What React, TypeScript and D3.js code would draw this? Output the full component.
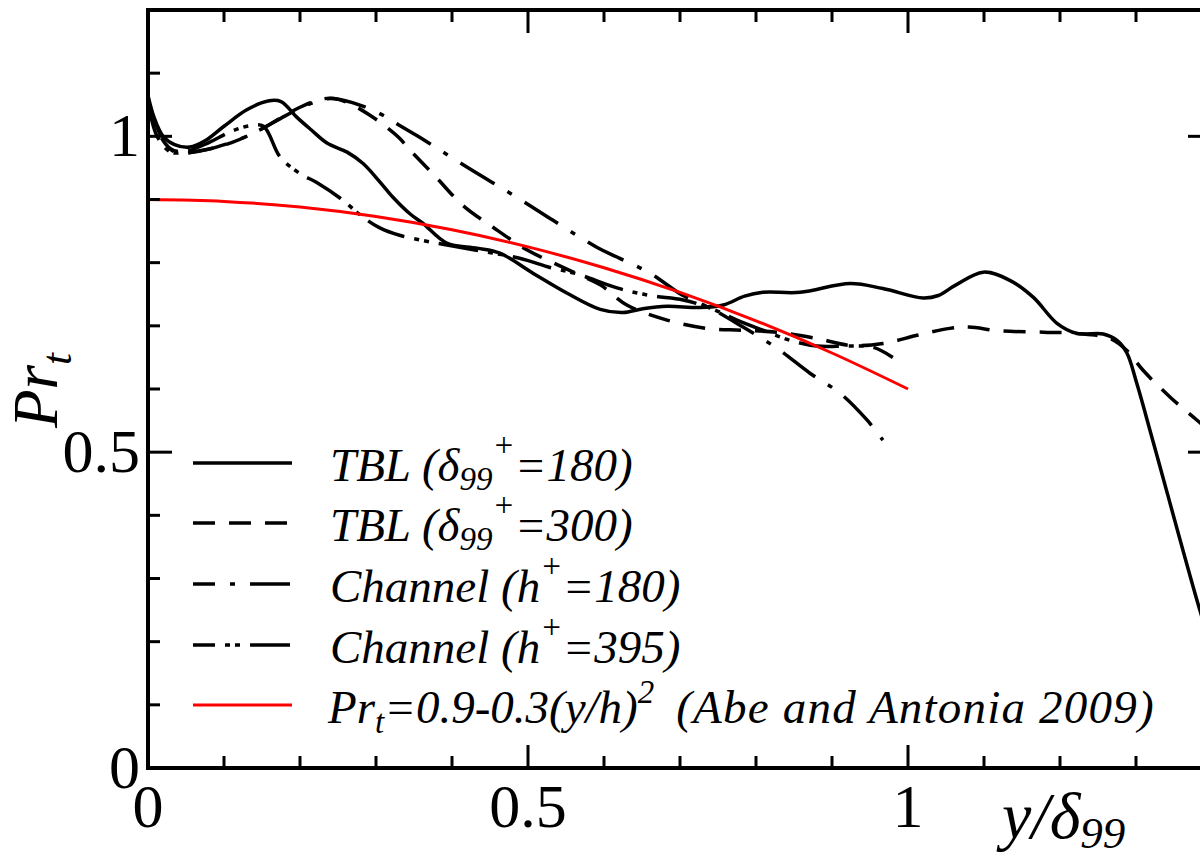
import React from 'react';
import * as d3 from 'd3';

type P = [number, number];

const tbl180: P[] = [[0,1.065],[0.008,1.03],[0.02,1.0],[0.035,0.987],[0.055,0.983],[0.075,0.993],[0.1,1.016],[0.13,1.042],[0.158,1.056],[0.175,1.055],[0.196,1.03],[0.215,1.01],[0.236,0.989],[0.262,0.975],[0.283,0.957],[0.305,0.928],[0.322,0.904],[0.345,0.877],[0.362,0.862],[0.393,0.831],[0.433,0.823],[0.463,0.815],[0.507,0.783],[0.551,0.752],[0.595,0.726],[0.625,0.721],[0.651,0.727],[0.683,0.731],[0.726,0.729],[0.757,0.733],[0.785,0.747],[0.809,0.753],[0.858,0.753],[0.924,0.767],[0.967,0.759],[1.02,0.744],[1.04,0.748],[1.062,0.764],[1.099,0.785],[1.134,0.772],[1.165,0.745],[1.196,0.704],[1.222,0.688],[1.257,0.687],[1.275,0.677],[1.288,0.657],[1.301,0.609],[1.322,0.519],[1.384,0.25],[1.4,0.19]];

const tbl300: P[] = [[0,1.05],[0.012,1.01],[0.03,0.98],[0.05,0.975],[0.08,0.98],[0.11,0.99],[0.15,1.012],[0.18,1.033],[0.2,1.046],[0.225,1.058],[0.245,1.06],[0.265,1.052],[0.29,1.035],[0.31,1.018],[0.33,0.998],[0.345,0.978],[0.38,0.934],[0.414,0.891],[0.454,0.856],[0.499,0.82],[0.533,0.8],[0.565,0.782],[0.595,0.765],[0.63,0.733],[0.683,0.709],[0.735,0.696],[0.78,0.693],[0.827,0.69],[0.88,0.68],[0.924,0.669],[0.967,0.672],[1.012,0.685],[1.055,0.696],[1.08,0.698],[1.121,0.692],[1.178,0.69],[1.222,0.688],[1.266,0.68],[1.288,0.661],[1.309,0.63],[1.345,0.587],[1.38,0.551],[1.4,0.53]];

const channel180: P[] = [[0,1.06],[0.01,1.02],[0.025,0.985],[0.04,0.973],[0.06,0.975],[0.09,0.983],[0.12,0.995],[0.15,1.012],[0.18,1.032],[0.21,1.05],[0.24,1.06],[0.27,1.053],[0.305,1.036],[0.33,1.018],[0.358,0.998],[0.42,0.951],[0.486,0.903],[0.533,0.867],[0.591,0.824],[0.617,0.809],[0.661,0.783],[0.704,0.748],[0.74,0.728],[0.783,0.698],[0.827,0.665],[0.871,0.625],[0.911,0.593],[0.946,0.551],[0.967,0.519]];

const channel395: P[] = [[0,1.055],[0.012,1.0],[0.03,0.975],[0.05,0.976],[0.08,0.99],[0.11,1.008],[0.135,1.017],[0.152,1.016],[0.174,0.967],[0.2,0.941],[0.222,0.927],[0.253,0.902],[0.283,0.872],[0.305,0.855],[0.332,0.843],[0.375,0.832],[0.43,0.82],[0.489,0.807],[0.53,0.792],[0.565,0.782],[0.617,0.76],[0.661,0.748],[0.704,0.741],[0.74,0.728],[0.775,0.709],[0.809,0.693],[0.845,0.677],[0.88,0.668],[0.924,0.668],[0.954,0.666],[0.98,0.65]];

const abeAntonia: P[] = [[0,0.9],[0.1,0.897],[0.2,0.888],[0.3,0.873],[0.4,0.852],[0.5,0.825],[0.6,0.792],[0.7,0.753],[0.8,0.708],[0.9,0.657],[1.0,0.6]];

const xTickValues = [0,0.1,0.2,0.3,0.4,0.5,0.6,0.7,0.8,0.9,1.0,1.1,1.2,1.3,1.4];
const yTickValues = [0,0.1,0.2,0.3,0.4,0.5,0.6,0.7,0.8,0.9,1.0,1.1,1.2];
const majorTicks = [0, 0.5, 1];
const xTickLabels = [{ v: 0, t: '0' }, { v: 0.5, t: '0.5' }, { v: 1, t: '1' }];
const yTickLabels = [{ v: 0, t: '0' }, { v: 0.5, t: '0.5' }, { v: 1, t: '1' }];

const FONT = '"Liberation Serif", "Times New Roman", serif';

export default function App() {
  const W = 1200, H = 858;
  const x = d3.scaleLinear().domain([0, 1.4]).range([148, 1212]);
  const y = d3.scaleLinear().domain([0, 1.2]).range([768, 10]);
  const line = d3.line<P>().x(d => x(d[0])).y(d => y(d[1])).curve(d3.curveCatmullRom.alpha(0.5));

  const series = [
    { data: tbl180, dash: 'none', color: '#000', width: 3.5 },
    { data: tbl300, dash: '22,14', color: '#000', width: 3.5 },
    { data: channel180, dash: '40,15,5,15', color: '#000', width: 3.5 },
    { data: channel395, dash: '40,10,5,5,5,10', color: '#000', width: 3.5 },
    { data: abeAntonia, dash: 'none', color: '#ff0000', width: 3 },
  ];

  const isMajor = (v: number) => majorTicks.some(m => Math.abs(m - v) < 1e-9);
  const legY = [463, 523, 584, 645, 705];
  const legendStyles = [
    { dash: 'none', color: '#000', off: 0 },
    { dash: '22,14', color: '#000', off: 0 },
    { dash: '40,15,5,15', color: '#000', off: 18 },
    { dash: '40,10,5,5,5,10', color: '#000', off: 18 },
    { dash: 'none', color: '#ff0000', off: 0 },
  ];
  const fs = 47, sfs = 33;

  return (
    <svg width={W} height={H} style={{ position: 'absolute', left: 0, top: 0, background: '#fff' }} fontFamily={FONT}>
      <defs>
        <clipPath id="plotclip">
          <rect x={148} y={10} width={1064} height={758} />
        </clipPath>
      </defs>
      <rect x={0} y={0} width={W} height={H} fill="#fff" />
      <g clipPath="url(#plotclip)">
        {series.map((s, i) => (
          <path key={i} d={line(s.data) || ''} fill="none" stroke={s.color} strokeWidth={s.width}
            strokeDasharray={s.dash} strokeLinejoin="round" />
        ))}
      </g>
      <rect x={148} y={10} width={1064} height={758} fill="none" stroke="#000" strokeWidth={4} />
      {xTickValues.map((v, i) => {
        const L = isMajor(v) ? 23 : 12;
        return (
          <g key={'xt' + i} stroke="#000" strokeWidth={3}>
            <line x1={x(v)} x2={x(v)} y1={768} y2={768 - L} />
            <line x1={x(v)} x2={x(v)} y1={10} y2={10 + L} />
          </g>
        );
      })}
      {yTickValues.map((v, i) => {
        const L = isMajor(v) ? 24 : 12;
        return (
          <g key={'yt' + i} stroke="#000" strokeWidth={3}>
            <line x1={148} x2={148 + L} y1={y(v)} y2={y(v)} />
            <line x1={1212} x2={1212 - L} y1={y(v)} y2={y(v)} />
          </g>
        );
      })}
      {xTickLabels.map((d, i) => (
        <text key={'xl' + i} x={x(d.v)} y={827} textAnchor="middle" fontSize={62}>{d.t}</text>
      ))}
      {yTickLabels.map((d, i) => (
        <text key={'yl' + i} x={140} y={y(d.v) + 20} textAnchor="end" fontSize={62}>{d.t}</text>
      ))}
      <text x={1002} y={838} fontSize={66} fontStyle="italic">y/δ<tspan fontSize={45} dy={10}>99</tspan></text>
      <text transform="translate(57,428) rotate(-90)" fontSize={63} fontStyle="italic">Pr<tspan fontSize={43} dy={14}>t</tspan></text>
      {legendStyles.map((s, i) => (
        <line key={'lg' + i} x1={193} x2={292} y1={legY[i]} y2={legY[i]} stroke={s.color} strokeWidth={i === 4 ? 3 : 3.5}
          strokeDasharray={s.dash} strokeDashoffset={s.off} />
      ))}
      <g fontStyle="italic" fontSize={fs}>
        <text x={330} y={legY[0] + 18}>TBL (δ<tspan fontSize={sfs} dy={9}>99</tspan><tspan fontSize={sfs} dy={-34}>+</tspan><tspan fontSize={fs} dy={25}>=180)</tspan></text>
        <text x={330} y={legY[1] + 18}>TBL (δ<tspan fontSize={sfs} dy={9}>99</tspan><tspan fontSize={sfs} dy={-34}>+</tspan><tspan fontSize={fs} dy={25}>=300)</tspan></text>
        <text x={330} y={legY[2] + 18}>Channel (h<tspan fontSize={sfs} dy={-25}>+</tspan><tspan fontSize={fs} dy={25}>=180)</tspan></text>
        <text x={330} y={legY[3] + 18}>Channel (h<tspan fontSize={sfs} dy={-25}>+</tspan><tspan fontSize={fs} dy={25}>=395)</tspan></text>
        <text x={328} y={legY[4] + 18}>Pr<tspan fontSize={sfs} dy={10}>t</tspan><tspan fontSize={fs} dy={-10}>=0.9-0.3(y/h)</tspan><tspan fontSize={sfs} dy={-20}>2</tspan><tspan fontSize={fs} dy={20} dx={22} letterSpacing={1.2}>(Abe and Antonia 2009)</tspan></text>
      </g>
    </svg>
  );
}
